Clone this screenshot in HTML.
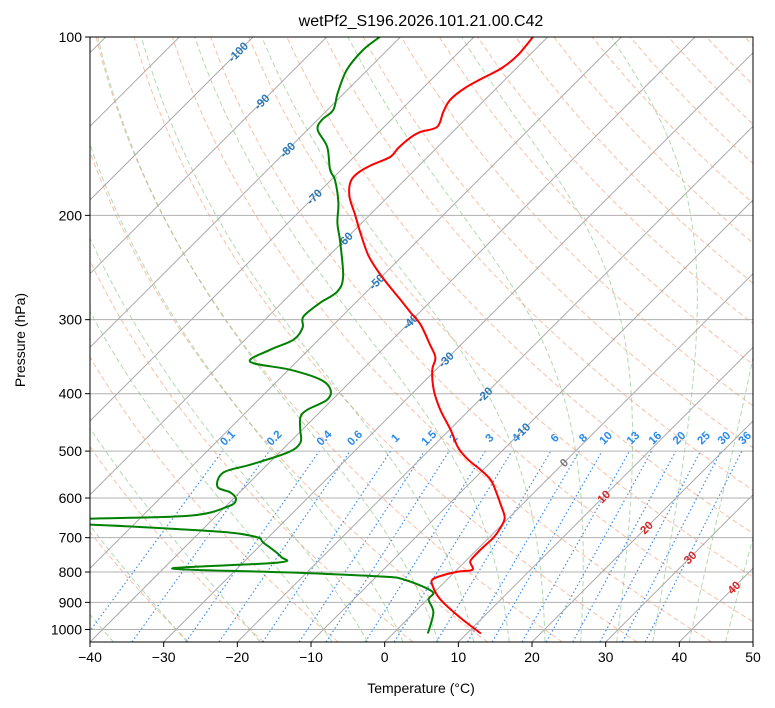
<!DOCTYPE html>
<html><head><meta charset="utf-8"><style>
body{margin:0;background:#fff;}
svg{display:block;font-family:"Liberation Sans","DejaVu Sans",sans-serif;}
</style></head><body>
<svg id="chart" width="775" height="708" xmlns="http://www.w3.org/2000/svg">
<defs><clipPath id="pc"><rect x="90" y="37" width="663" height="605"/></clipPath></defs>
<rect width="775" height="708" fill="#fff"/>
<text x="421" y="26" font-size="16" text-anchor="middle">wetPf2_S196.2026.101.21.00.C42</text>
<g id="plot" clip-path="url(#pc)"></g>
<rect x="90" y="37" width="663" height="605" fill="none" stroke="#000" stroke-width="1"/>
<g id="axes"></g>
<text x="421" y="693" font-size="14" text-anchor="middle">Temperature (°C)</text>
<text transform="translate(25,340) rotate(-90)" font-size="14" text-anchor="middle">Pressure (hPa)</text>
</svg>
<script>
// ---- data ----
const tempP=[1015.7,961.9,914.6,883.1,849.6,823.6,807.8,798.3,792.5,768.3,747.7,724.4,699.6,673.0,647.4,615.6,580.5,558.4,537.4,517.0,493.4,459.9,425.6,393.8,364.4,347.8,330.7,305.9,290.9,277.7,262.0,249.1,233.2,213.3,199.6,186.1,175.6,169.5,164.4,159.4,153.9,148.0,144.6,141.8,133.8,127.7,121.9,117.2,112.8,107.2,100];
const tempT=[11.9,7.5,3.7,1.3,-0.8,-2.0,-0.9,0.5,2.1,0.7,0.5,0.5,0.6,0.2,-0.6,-2.9,-5.7,-7.7,-10.4,-13.4,-16.4,-19.9,-24.0,-27.6,-30.5,-31.7,-34.2,-38.2,-41.4,-44.3,-48.0,-51.1,-54.8,-59.0,-62.0,-65.2,-67.1,-67.3,-66.5,-65.1,-65.2,-65.0,-64.4,-62.8,-64.0,-64.7,-64.3,-63.2,-62.0,-61.6,-62.0];
const dewP=[1015.7,936.1,890.3,862.9,823.6,813.9,801.4,789.4,771.2,753.3,713.2,699.6,686.2,675.6,665.2,657.6,650.0,642.5,620.4,603.8,587.5,574.0,543.5,527.1,503.0,483.9,459.9,437.4,425.6,409.5,393.8,378.8,364.4,353.3,337.2,324.3,309.5,296.6,281.0,269.2,254.1,222.6,206.0,190.5,174.2,167.6,153.3,143.5,138.0,132.8,124.3,113.7,105.2,100];
const dewT=[4.7,2.6,0.2,-0.4,-5.9,-9.5,-22.2,-38.8,-25.3,-25.7,-30.0,-31.4,-35.8,-44.9,-55.9,-70,-56.7,-43.5,-39.7,-39.5,-41.2,-43.8,-44.9,-42.3,-38.9,-38.5,-40.3,-42.0,-42.0,-40.7,-41.6,-44.3,-49.8,-56.3,-55.2,-53.4,-53.8,-55.2,-54.8,-54.0,-55.2,-60.2,-63.3,-65.9,-69.5,-71.5,-75.0,-78.6,-79.4,-79.2,-80.9,-82.8,-83.3,-82.8];
const xTicks=[-40,-30,-20,-10,0,10,20,30,40,50];
const pTicks=[100,200,300,400,500,600,700,800,900,1000];
const mixRatios=[0.1,0.2,0.4,0.6,1,1.5,2,3,4,6,8,10,13,16,20,25,30,36];
const isoLabelT=[-100,-90,-80,-70,-60,-50,-40,-30,-20,-10,0,10,20,30,40];
const isoLabelP=[106.0,128.7,155.1,186.1,219.9,258.9,302.4,350.5,401.5,461.7,523.0,596.8,673.0,756.2,849.6];
// ---- axes ----
const X0=90,X1=753,Y0=37,Y1=642,PTOP=100,PBOT=1050;
const kx=(X1-X0)/90;
function yOf(p){return Y0+(Y1-Y0)*Math.log10(p/PTOP)/Math.log10(PBOT/PTOP);}
function xOf(T,p){return X0+(T+40)*kx+(Y1-yOf(p));}
const NS='http://www.w3.org/2000/svg';
const plot=document.getElementById('plot'),axes=document.getElementById('axes');
function mk(tag,at,parent){const e=document.createElementNS(NS,tag);for(const k in at)e.setAttribute(k,at[k]);parent.appendChild(e);return e;}
function pathFrom(ps,ts){let d='';for(let i=0;i<ps.length;i++){d+=(i?'L':'M')+xOf(ts[i],ps[i]).toFixed(1)+','+yOf(ps[i]).toFixed(1);}return d;}
function smoothFrom(ps,ts){
  const pts=ps.map((p,i)=>[xOf(ts[i],p),yOf(p)]);
  let d='M'+pts[0][0].toFixed(1)+','+pts[0][1].toFixed(1);
  for(let i=0;i<pts.length-1;i++){
    const p0=pts[Math.max(0,i-1)],p1=pts[i],p2=pts[i+1],p3=pts[Math.min(pts.length-1,i+2)];
    const c1=[p1[0]+(p2[0]-p0[0])/6,p1[1]+(p2[1]-p0[1])/6];
    const c2=[p2[0]-(p3[0]-p1[0])/6,p2[1]-(p3[1]-p1[1])/6];
    d+='C'+c1[0].toFixed(1)+','+c1[1].toFixed(1)+' '+c2[0].toFixed(1)+','+c2[1].toFixed(1)+' '+p2[0].toFixed(1)+','+p2[1].toFixed(1);
  }
  return d;
}
const plevs=[];for(let p=PBOT;p>=PTOP-0.01;p-=10)plevs.push(p);
// dry adiabats
for(let th=-30;th<=230;th+=10){
  const ts=plevs.map(p=>(th+273.15)*Math.pow(p/1000,0.2857)-273.15);
  const e=mk('path',{d:pathFrom(plevs,ts),fill:'none',stroke:'#f4a582','stroke-width':1,'stroke-dasharray':'5,3',opacity:0.7},plot);
  
  
}
// moist adiabats
function es(T){return 6.112*Math.exp(17.67*T/(T+243.5));}
function moistRate(p,T){const Tk=T+273.15,eps=0.622,Rd=287.04,Cp=1005.7,Lv=2.501e6;const e=es(T);const rs=eps*e/(p-e);
  return (1/p)*(Rd*Tk+Lv*rs)/(Cp+Lv*Lv*rs*eps/(Rd*Tk*Tk));}
for(let t0=-50;t0<=45;t0+=5){
  if(t0<-10&&t0%10!==0)continue;
  const ps=[],ts=[];let T=t0;
  let Td=t0;for(let p=1000;p<PBOT;p+=2){Td+=moistRate(p,Td)*2;}
  ps.push(PBOT);ts.push(Td);
  T=t0;
  for(let p=1000;p>=PTOP;p-=2){if(p%10===0){ps.push(p);ts.push(T);}T-=moistRate(p,T)*2;}
  const e=mk('path',{d:pathFrom(ps,ts),fill:'none',stroke:'#7fbf7f','stroke-width':1,'stroke-dasharray':'5,3',opacity:0.6},plot);
  
  
}
// mixing ratio lines
function tdFromW(w,p){const e=w*p/(622+w);const l=Math.log(e/6.112);return 243.5*l/(17.67-l);}
mixRatios.forEach(w=>{
  const ps=[PBOT,500];const ts=ps.map(p=>tdFromW(w,p));
  const e=mk('path',{d:pathFrom(ps,ts),fill:'none',stroke:'#3d8fe8','stroke-width':1.2,'stroke-dasharray':'1.5,2.5'},plot);
  
  
  const lx=xOf(tdFromW(w,480),480),ly=yOf(480);
  const t=mk('text',{x:lx,y:ly,'font-size':11.5,'font-weight':'bold',fill:'#2b8be8','text-anchor':'middle',transform:`rotate(-45 ${lx} ${ly})`},plot);
  t.textContent=String(w);
  
  
});
// isotherms (skewed grid)
for(let T=-200;T<=50;T+=10){
  const e=mk('line',{x1:xOf(T,PBOT),y1:Y1,x2:xOf(T,PTOP),y2:Y0,stroke:'#aaa','stroke-width':1},plot);
  
  
}
// pressure grid
pTicks.forEach(p=>{
  const e=mk('line',{x1:X0,x2:X1,y1:yOf(p),y2:yOf(p),stroke:'#b0b0b0','stroke-width':1},plot);
  
  
});
// isotherm labels
isoLabelT.forEach((T,i)=>{
  const p=isoLabelP[i];const lx=xOf(T,p),ly=yOf(p)+4;
  const col=T<0?'#2a78b8':(T===0?'#777':'#d62728');
  const t=mk('text',{x:lx,y:ly,'font-size':11.5,'font-weight':'bold',fill:col,'text-anchor':'middle',transform:`rotate(-45 ${lx} ${ly-4})`},plot);
  t.textContent=String(T);
  
  
});
// profiles
const tl=mk('path',{d:smoothFrom(tempP,tempT),fill:'none',stroke:'#ff0000','stroke-width':2,'stroke-linejoin':'round'},plot);


const dl=mk('path',{d:smoothFrom(dewP,dewT),fill:'none',stroke:'#008000','stroke-width':2,'stroke-linejoin':'round'},plot);


// ticks
xTicks.forEach(T=>{
  const x=X0+(T+40)*kx;
  const l=mk('line',{x1:x,x2:x,y1:Y1,y2:Y1+5,stroke:'#000'},axes);
  
  
  const t=mk('text',{x:x,y:Y1+20,'font-size':14,'text-anchor':'middle'},axes);
  t.textContent=(T<0?'\u2212'+(-T):String(T));
  
  
});
pTicks.forEach(p=>{
  const y=yOf(p);
  const l=mk('line',{x1:X0-5,x2:X0,y1:y,y2:y,stroke:'#000'},axes);
  
  
  const t=mk('text',{x:X0-8,y:y+5,'font-size':14,'text-anchor':'end'},axes);
  t.textContent=String(p);
  
  
});
</script>
</body></html>
